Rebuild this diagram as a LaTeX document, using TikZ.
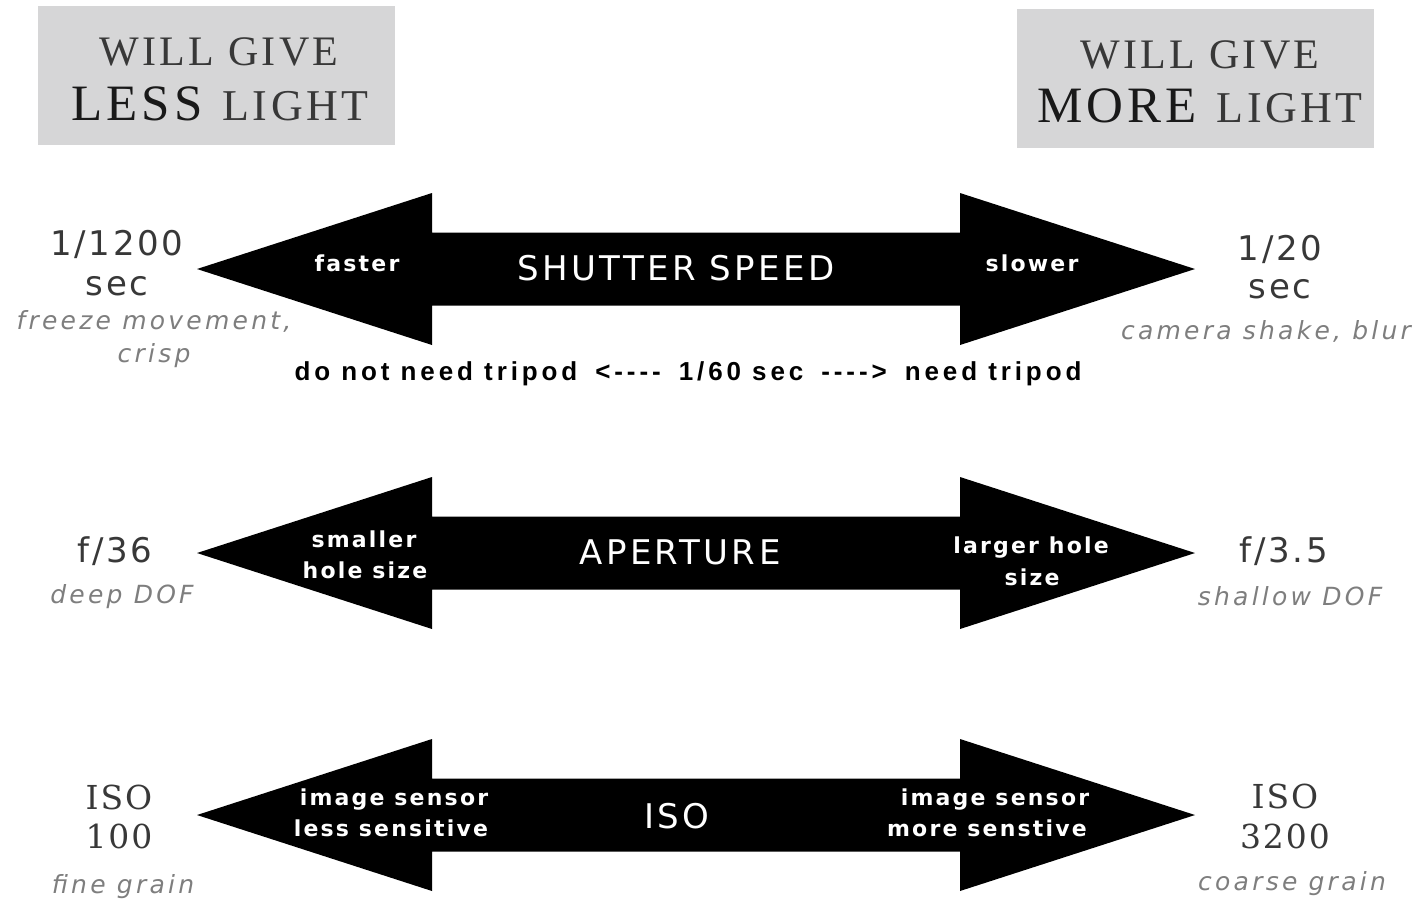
\documentclass[tikz,border=0pt]{standalone}
\usepackage{fontspec}
\usepackage{tikz}
\usetikzlibrary{positioning}

\definecolor{boxgray}{HTML}{D6D6D7}
\definecolor{valgray}{HTML}{383838}
\definecolor{notegray}{HTML}{7E7E7E}

\newfontfamily\titlefont[LetterSpace=8]{Liberation Serif}
\newfontfamily\valfont[LetterSpace=8]{DejaVu Sans}
\newfontfamily\isofont[LetterSpace=6]{DejaVu Serif}
\newfontfamily\notefont[LetterSpace=13]{DejaVu Sans}
\newfontfamily\barfont[LetterSpace=10]{DejaVu Sans}
\newfontfamily\tripodfont[LetterSpace=15]{Liberation Sans}

\begin{document}
\begin{tikzpicture}[
    x=0.5pt, y=-0.5pt,
    bar/.style={fill=black},
    titlebox/.style={fill=boxgray, draw=none, inner sep=0pt, minimum width=178.5pt, minimum height=69.5pt},
    title/.style={anchor=base, inner sep=0pt, text=black!78},
    val/.style={anchor=base, inner sep=0pt, text=valgray, font=\valfont\fontsize{17}{17}\selectfont},
    isoval/.style={anchor=base, inner sep=0pt, text=valgray, font=\isofont\fontsize{16.5}{16.5}\selectfont},
    note/.style={anchor=base, inner sep=0pt, text=notegray, font=\notefont\itshape\fontsize{12.5}{12.5}\selectfont},
    lab/.style={anchor=base, inner sep=0pt, text=white, font=\barfont\bfseries\fontsize{11}{11}\selectfont},
    big/.style={anchor=base, inner sep=0pt, text=white, font=\barfont\fontsize{17}{17}\selectfont}
]
\useasboundingbox (0,0) rectangle (1426,902);

% Header boxes
\node[titlebox] (lessbox) at (216.5,75.5) {};
\node[titlebox] (morebox) at (1195,78.5) {};
\node[title, font=\titlefont\fontsize{21}{21}\selectfont] (lessa) at (219,65) {WILL GIVE};
\node[title] (lessb) at (220,120) {{\titlefont\fontsize{25.5}{25.5}\selectfont\color{black!90}LESS}\hspace{10pt}{\titlefont\fontsize{22}{22}\selectfont LIGHT}};
\node[title, font=\titlefont\fontsize{21}{21}\selectfont] (morea) at (1200,68) {WILL GIVE};
\node[title] (moreb) at (1200,122) {{\titlefont\fontsize{25.5}{25.5}\selectfont\color{black!90}MORE}\hspace{10pt}{\titlefont\fontsize{22}{22}\selectfont LIGHT}};

% Double arrows
\fill[bar] (197,269) -- (432,193) -- (432,232.5) -- (960,232.5) -- (960,193) -- (1195,269)
    -- (960,345) -- (960,305.5) -- (432,305.5) -- (432,345) -- cycle;
\fill[bar] (197,553) -- (432,477) -- (432,516.5) -- (960,516.5) -- (960,477) -- (1195,553)
    -- (960,629) -- (960,589.5) -- (432,589.5) -- (432,629) -- cycle;
\fill[bar] (197,815) -- (432,739) -- (432,778.5) -- (960,778.5) -- (960,739) -- (1195,815)
    -- (960,891) -- (960,851.5) -- (432,851.5) -- (432,891) -- cycle;

% Shutter speed
\node[big] (shutter) at (676,280) {SHUTTER SPEED};
\node[lab] (faster) at (357,271) {faster};
\node[lab] (slower) at (1032,271) {slower};
\node[val] (fastval) at (117,255) {1/1200};
\node[val] (fastsec) at (117,295) {sec};
\node[note] (fastnote) at (154,329) {freeze movement,};
\node[note] (fastnoteb) at (154,362) {crisp};
\node[val] (slowval) at (1280,260) {1/20};
\node[val] (slowsec) at (1280,298) {sec};
\node[note] (slownote) at (1266,339) {camera shake, blur};
\node[anchor=base, inner sep=0pt, font=\tripodfont\bfseries\fontsize{13}{13}\selectfont] (tripod) at (688,380)
    {do not need tripod\hspace{9pt}<----\hspace{9pt}1/60 sec\hspace{9pt}---->\hspace{9pt}need tripod};

% Aperture
\node[big] (aperture) at (680,564) {APERTURE};
\node[lab] (smallera) at (364,547) {smaller};
\node[lab] (smallerb) at (365,578) {hole size};
\node[lab] (largera) at (1031,553) {larger hole};
\node[lab] (largerb) at (1032,585) {size};
\node[val] (deepval) at (115,562) {f/36};
\node[note] (deepnote) at (122,603) {deep DOF};
\node[val] (shalval) at (1284,562) {f/3.5};
\node[note] (shalnote) at (1290,605) {shallow DOF};

% ISO
\node[big] (iso) at (677,828) {ISO};
\node[lab] (lowa) at (394,805) {image sensor};
\node[lab] (lowb) at (391,836) {less sensitive};
\node[lab] (higha) at (995,805) {image sensor};
\node[lab] (highb) at (987,836) {more senstive};
\node[isoval] (lowiso) at (119,809) {ISO};
\node[isoval] (lowval) at (119,848) {100};
\node[note] (lownote) at (123,893) {fine grain};
\node[isoval] (highiso) at (1285,808) {ISO};
\node[isoval] (highval) at (1285,848) {3200};
\node[note] (highnote) at (1292,890) {coarse grain};

\end{tikzpicture}
\end{document}
